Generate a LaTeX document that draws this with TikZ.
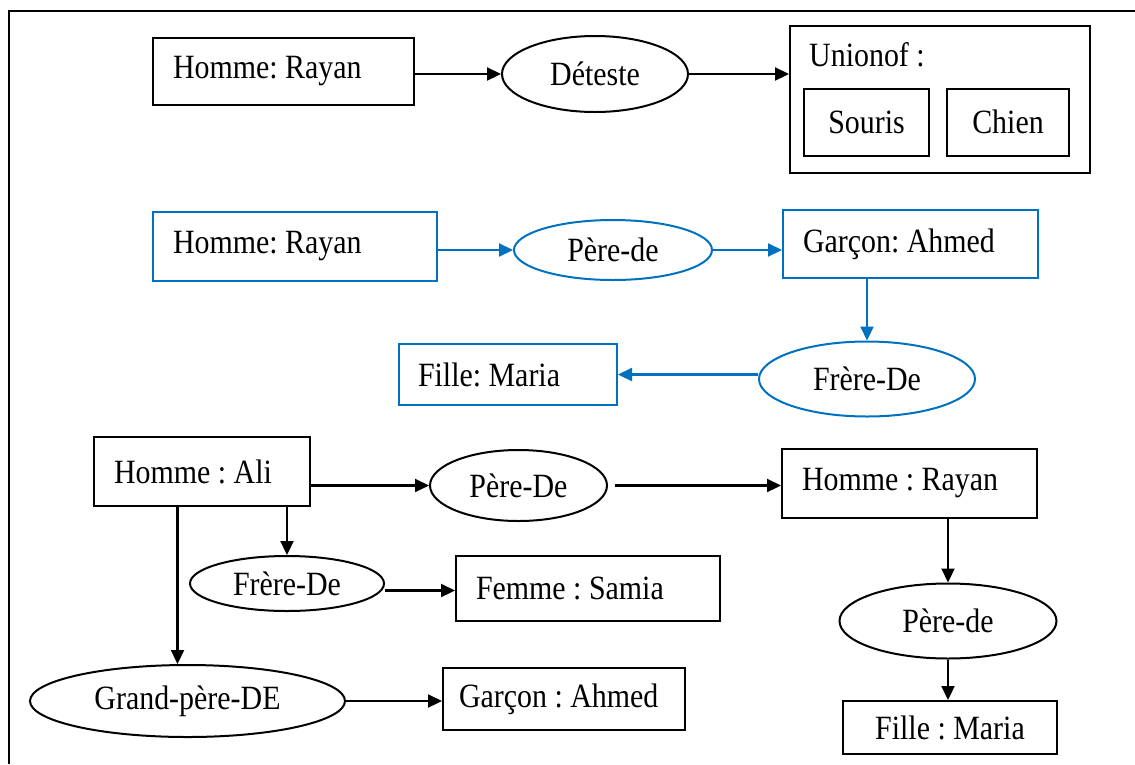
\documentclass[tikz,border=0pt]{standalone}
\usepackage{fontspec}
\setmainfont{Liberation Serif}[FakeStretch=0.88]
\usetikzlibrary{arrows.meta,shapes.geometric,calc}
\definecolor{wordblue}{RGB}{0,112,192}
\begin{document}
\begin{tikzpicture}[x=1pt,y=-1pt,
  every node/.style={font=\fontsize{34}{38}\selectfont\frenchspacing},
  box/.style={draw, rectangle, line width=2pt, inner ysep=0pt},
  lbox/.style={box, align=flush left, inner xsep=20pt},
  cbox/.style={box, align=center, inner xsep=0pt},
  oval/.style={draw, ellipse, line width=2pt, inner sep=0pt},
  arr/.style={-{Triangle[length=14pt,width=13pt]}, line width=2.2pt},
  blue/.style={draw=wordblue, text=black}]
\useasboundingbox (0,0) rectangle (1135,764);

% page frame
\draw[line width=2pt] (9,764) -- (9,11) -- (1135,11);

% ---- Déteste ----
\node[lbox, minimum width=261pt, minimum height=67pt, text width=221pt] (hr1) at (283.5,71.5) {Homme: Rayan};
\node[oval, minimum width=186pt, minimum height=76pt] (det) at (595,74) {Déteste};
\node[box, minimum width=300pt, minimum height=147pt, inner sep=0pt] (union) at (940,99.5) {};
\node[anchor=west, inner sep=0pt] (uniontitle) at (809,55) {Unionof :};
\node[cbox, minimum width=125pt, minimum height=67pt] (souris) at (866.5,122) {Souris};
\node[cbox, minimum width=122pt, minimum height=67pt] (chien) at (1008,122) {Chien};
\draw[arr] (hr1.east |- det) -- (det.west);
\draw[arr] (det.east) -- (det.east -| union.west);

% ---- Père / Frère (blue) ----
\node[lbox, blue, minimum width=284pt, minimum height=69pt, text width=244pt] (hr2) at (295,246.5) {Homme: Rayan};
\node[oval, blue, minimum width=198pt, minimum height=60pt] (pere1) at (613,250) {Père-de};
\node[lbox, blue, minimum width=255pt, minimum height=68pt, text width=215pt] (gar1) at (910.5,244) {Garçon: Ahmed};
\node[oval, blue, minimum width=216pt, minimum height=75pt] (fr1) at (867,379) {Frère-De};
\node[lbox, blue, minimum width=218pt, minimum height=61pt, text width=180pt, inner xsep=19pt] (fm1) at (508,374.5) {Fille: Maria};
\draw[arr, wordblue] (hr2.east |- pere1) -- (pere1.west);
\draw[arr, wordblue] (pere1.east) -- (pere1.east -| gar1.west);
\draw[arr, wordblue] (gar1.south -| fr1.north) -- (fr1.north);
\draw[arr, wordblue] (fr1.west |- fm1) -- (fm1.east);

% ---- Famille d'Ali ----
\node[lbox, minimum width=216pt, minimum height=69pt, text width=176pt] (ali) at (202,471.5) {Homme : Ali};
\node[oval, minimum width=177pt, minimum height=71pt] (pd1) at (518.5,485.5) {Père-De};
\node[lbox, minimum width=255pt, minimum height=69pt, text width=215pt] (hr3) at (909.5,483.5) {Homme : Rayan};
\node[oval, minimum width=194pt, minimum height=55pt] (fr2) at (287,583.5) {Frère-De};
\node[lbox, minimum width=264pt, minimum height=65pt, text width=224pt] (fs) at (588,588.5) {Femme : Samia};
\node[oval, minimum width=315pt, minimum height=72pt] (gp) at (187.5,701) {Grand-père-DE};
\node[lbox, minimum width=242pt, minimum height=62pt, text width=210pt, inner xsep=16pt] (ga) at (564,699) {Garçon : Ahmed};
\node[oval, minimum width=217pt, minimum height=75pt] (pd2) at (948,621) {Père-de};
\node[cbox, minimum width=214pt, minimum height=53pt] (fm2) at (950,727.5) {Fille : Maria};

\draw[arr] (ali.east |- pd1) -- (pd1.west);
\draw[arr] ([xshift=7pt]pd1.east) -- (pd1.east -| hr3.west);
\draw[arr] (ali.south -| fr2.north) -- (fr2.north);
\draw[arr] ([yshift=-7pt]fr2.east) -- ([yshift=-7pt]fr2.east -| fs.west);
\draw[arr] ([xshift=-10pt]ali.south -| gp.north) -- ([xshift=-10pt]gp.north);
\draw[arr] (gp.east) -- (gp.east -| ga.west);
\draw[arr] (hr3.south -| pd2.north) -- (pd2.north);
\draw[arr] (pd2.south) -- (pd2.south |- fm2.north);
\end{tikzpicture}
\end{document}
